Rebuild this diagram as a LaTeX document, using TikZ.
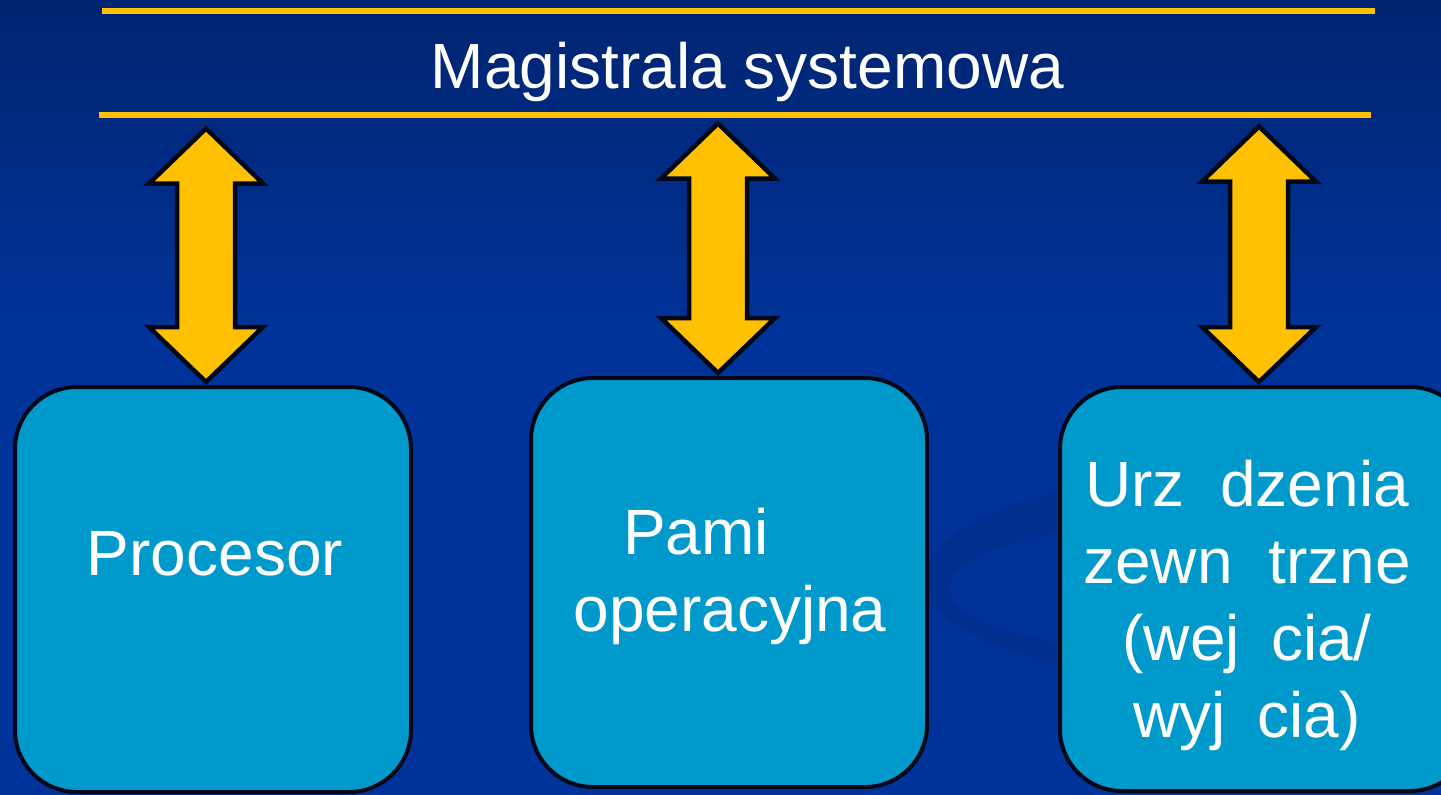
\documentclass[tikz,border=0pt]{standalone}
\usepackage{fontspec}
\setmainfont{Liberation Sans}
\usetikzlibrary{calc}
\definecolor{bgtop}{RGB}{0,36,112}
\definecolor{bgmain}{RGB}{0,51,153}
\definecolor{swoosh}{RGB}{0,47,143}
\definecolor{busyellow}{RGB}{255,192,0}
\definecolor{boxblue}{RGB}{0,153,204}
\definecolor{outline}{RGB}{0,8,24}
\begin{document}
\begin{tikzpicture}[x=1pt,y=-1pt,
  busline/.style={busyellow, line width=5.3pt},
  unitbox/.style={draw=outline, fill=boxblue, line width=4pt, rounded corners=62pt,
                  minimum width=396pt, inner sep=0pt},
  boxtext/.style={text=white, font=\fontsize{64}{77}\selectfont, align=center,
                  inner sep=0pt, anchor=base},
  busarrow/.style={draw=outline, fill=busyellow, line width=4.5pt, line join=miter}
]
\useasboundingbox (0,0) rectangle (1441,795);
\clip (0,0) rectangle (1441,795);

% background
\fill[top color=bgtop, bottom color=bgmain] (0,0) rectangle (1441,330);
\fill[bgmain] (0,329) rectangle (1441,795);
\fill[swoosh, even odd rule] (1200,578) ellipse [x radius=275, y radius=100]
                             (1212,588) ellipse [x radius=262, y radius=68];

% system bus
\draw[busline] (102,11) -- (1375,11);
\draw[busline] (99,115) -- (1371,115);
\node[boxtext] (title) at (747.5,88) {Magistrala systemowa};

% units
\node[unitbox, minimum height=405pt] (cpu) at (213,589.5) {};
\node[unitbox, minimum height=409pt] (mem) at (729,582.5) {};
\node[unitbox, minimum height=404pt, minimum width=412pt] (io) at (1266,589) {};

% bus connections
\coordinate (t1) at (206,128.5);
\coordinate (t2) at (718,123.5);
\coordinate (t3) at (1259,126.5);
\foreach \t/\b in {t1/cpu, t2/mem, t3/io}{
  \draw[busarrow] let \p1=(\t), \p2=(\b.north) in
    (\x1,\y1) -- (\x1+57pt,\y1-55pt) -- (\x1+29pt,\y1-55pt)
    -- (\x1+29pt,\y2+58pt) -- (\x1+57pt,\y2+58pt) -- (\x1,\y2+3pt)
    -- (\x1-57pt,\y2+58pt) -- (\x1-29pt,\y2+58pt)
    -- (\x1-29pt,\y1-55pt) -- (\x1-57pt,\y1-55pt) -- cycle;
}

% unit labels (base anchor sits on the last line)
\node[boxtext] (cputext) at (215,575) {Procesor};
\node[boxtext] (memtext) at (730,631) {Pami\phantom{ęć}\\operacyjna};
\node[boxtext] (iotext)  at (1247,737)
  {Urz\phantom{ą}dzenia\\zewn\phantom{ę}trzne\\(wej\phantom{ś}cia/\\wyj\phantom{ś}cia)};
\end{tikzpicture}
\end{document}
